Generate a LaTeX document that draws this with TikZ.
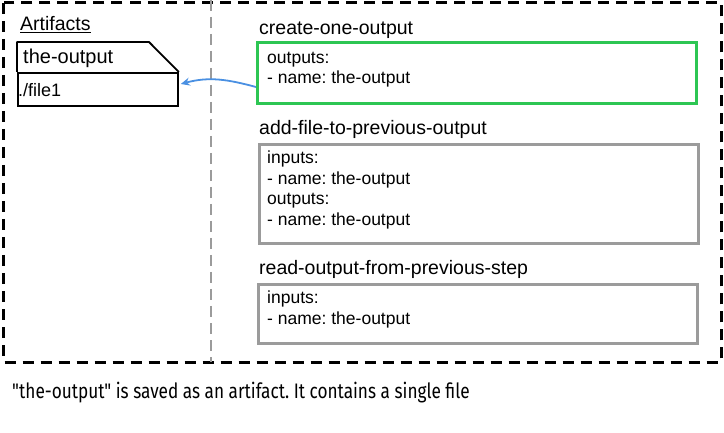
\documentclass[tikz,border=0pt]{standalone}
\usepackage{fontspec}
\setmainfont{Liberation Sans}
\newfontfamily\capfont[FakeStretch=0.82]{Fira Sans}
\usetikzlibrary{arrows.meta}
\frenchspacing
\definecolor{boxgreen}{HTML}{2DC653}
\definecolor{boxgray}{HTML}{9B9B9B}
\definecolor{arrowblue}{HTML}{4A90E2}
\tikzset{
  x=1pt, y=1pt,
  title/.style={anchor=base west, inner sep=0pt, font=\fontsize{19.5}{23}\selectfont},
  body/.style={anchor=north west, inner sep=0pt, align=left, font=\fontsize{17.5}{20.8}\selectfont},
  stepbox/.style={draw, line width=2.6pt, anchor=north west, minimum width=439pt, inner sep=0pt},
  outer/.style={draw=black, line width=3pt, dash pattern=on 11pt off 7pt},
  divider/.style={draw=boxgray, line width=2.4pt, dash pattern=on 11pt off 6pt},
  link/.style={draw=arrowblue, line width=1.8pt, -{Stealth[length=9pt,width=8pt]}}
}
\begin{document}
\begin{tikzpicture}
\useasboundingbox (0,0) rectangle (724,-433);
% outer dashed frame
\draw[outer] (3.5,-3) rectangle (721,-362);
\coordinate (dtop) at (211,0);
\coordinate (dbot) at (211,-362);
\draw[divider] (dtop) -- (dbot);

% artifacts
\node[title, font=\fontsize{19.5}{23}\selectfont] (arth) at (20,-31) {\underline{Artifacts}};
\node[draw, line width=1.8pt, anchor=north west, minimum width=160pt, minimum height=33pt, inner sep=0pt] (file) at (17,-72) {};
\node[anchor=west, inner sep=0pt, font=\fontsize{18}{21}\selectfont] (fname) at ([xshift=1pt,yshift=-1pt]file.west) {./file1};
\draw[line width=1.8pt, line join=round] (file.north west) -- ++(0,30) -- ++(132,0) -- (file.north east);
\node[title, font=\fontsize{20}{23}\selectfont] (atitle) at (23,-64) {the-output};

% step 1
\node[title] (t1) at (259,-34.5) {create-one-output};
\node[stepbox, draw=boxgreen, minimum height=61pt] (s1) at (256,-41) {};
\node[body] (b1) at (267,-51.5) {outputs:\\- name: the-output};

% step 2
\node[title] (t2) at (259,-135) {add-file-to-previous-output};
\node[stepbox, draw=boxgray, minimum height=99pt] (s2) at (258,-143) {};
\node[body] (b2) at (267,-150.5) {inputs:\\- name: the-output\\outputs:\\- name: the-output};

% step 3
\node[title] (t3) at (259,-275) {read-output-from-previous-step};
\node[stepbox, draw=boxgray, minimum height=59pt] (s3) at (257,-283) {};
\node[body] (b3) at (267,-290.5) {inputs:\\- name: the-output};

% arrow
\draw[link] (s1.west |- 0,-87) to[out=165,in=15] ([xshift=2pt]file.east |- 0,-84);

% caption
\node[anchor=base west, inner sep=0pt, font=\capfont\fontsize{21}{24}\selectfont] (cap) at (12,-399) {"the-output" is saved as an artifact. It contains a single file};
\end{tikzpicture}
\end{document}
